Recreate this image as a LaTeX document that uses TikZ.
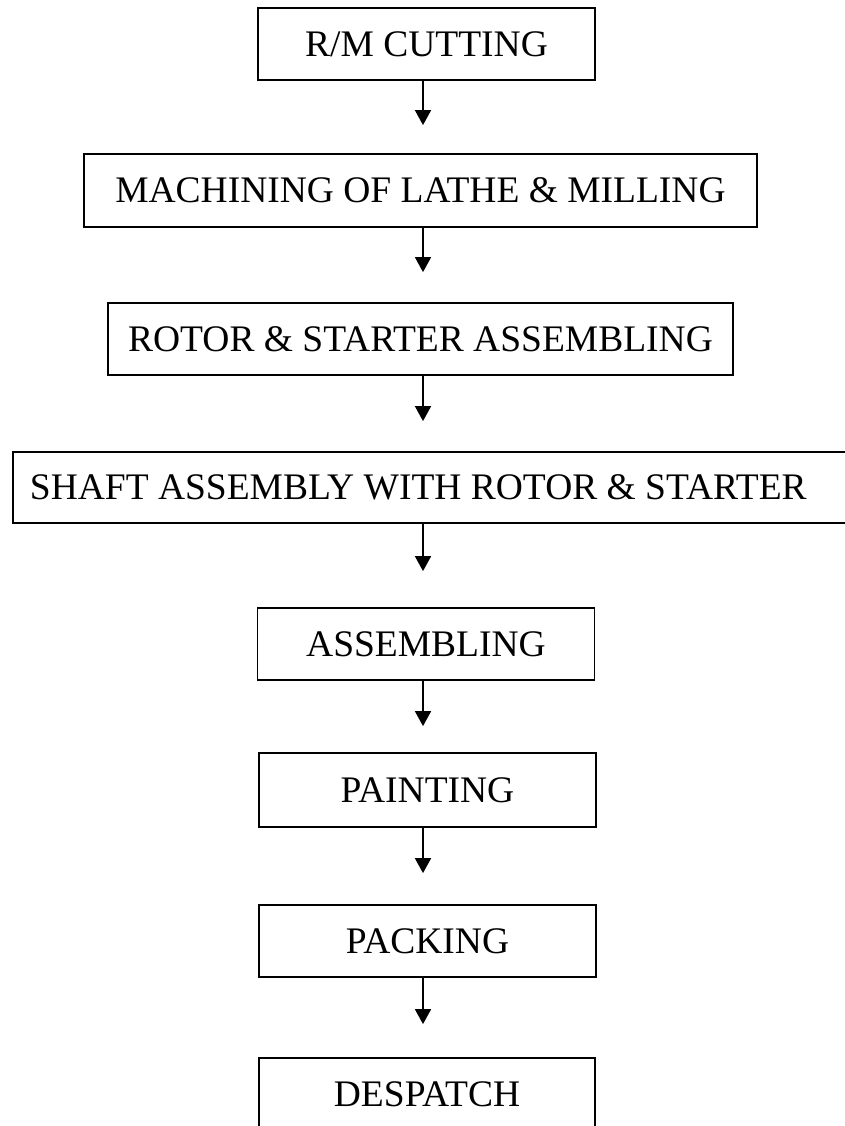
\documentclass[tikz,border=0pt]{standalone}
\usepackage{fontspec}
\setmainfont{Liberation Serif}
\usetikzlibrary{arrows.meta}
\begin{document}
\begin{tikzpicture}[x=1pt,y=-1pt,
  stepbox/.style={draw, line width=1.8pt, rectangle, inner sep=0pt,
    font=\fontsize{37.5}{40}\selectfont},
  arr/.style={line width=1.8pt, -{Triangle[width=16pt,length=15pt]}}]
\useasboundingbox (0,0) rectangle (844,1126);
\node[stepbox, minimum width=337pt, minimum height=72pt] (b1) at (426.5,44) {R/M CUTTING};
\node[stepbox, minimum width=673pt, minimum height=73pt] (b2) at (420.5,190.5) {MACHINING OF LATHE \& MILLING};
\node[stepbox, minimum width=625pt, minimum height=72pt] (b3) at (420.5,339) {ROTOR \& STARTER ASSEMBLING};
\node[stepbox, anchor=west, inner xsep=17pt, minimum height=71pt] (b4) at (12,487.5) {\makebox[840pt][l]{SHAFT ASSEMBLY WITH ROTOR \& STARTER}};
\node[stepbox, minimum width=337pt, minimum height=72pt] (b5) at (426,644) {ASSEMBLING};
\node[stepbox, minimum width=337pt, minimum height=74pt] (b6) at (427.5,790) {PAINTING};
\node[stepbox, minimum width=337pt, minimum height=72pt] (b7) at (427.5,941) {PACKING};
\node[stepbox, minimum width=336pt, minimum height=72pt] (b8) at (427,1094) {DESPATCH};
\coordinate (ax) at (423,0);
\draw[arr, shorten >=28pt] (b1.south -| ax) -- (b2.north -| ax);
\draw[arr, shorten >=30pt] (b2.south -| ax) -- (b3.north -| ax);
\draw[arr, shorten >=30pt] (b3.south -| ax) -- (b4.north -| ax);
\draw[arr, shorten >=36pt] (b4.south -| ax) -- (b5.north -| ax);
\draw[arr, shorten >=26pt] (b5.south -| ax) -- (b6.north -| ax);
\draw[arr, shorten >=31pt] (b6.south -| ax) -- (b7.north -| ax);
\draw[arr, shorten >=33pt] (b7.south -| ax) -- (b8.north -| ax);
\end{tikzpicture}
\end{document}
